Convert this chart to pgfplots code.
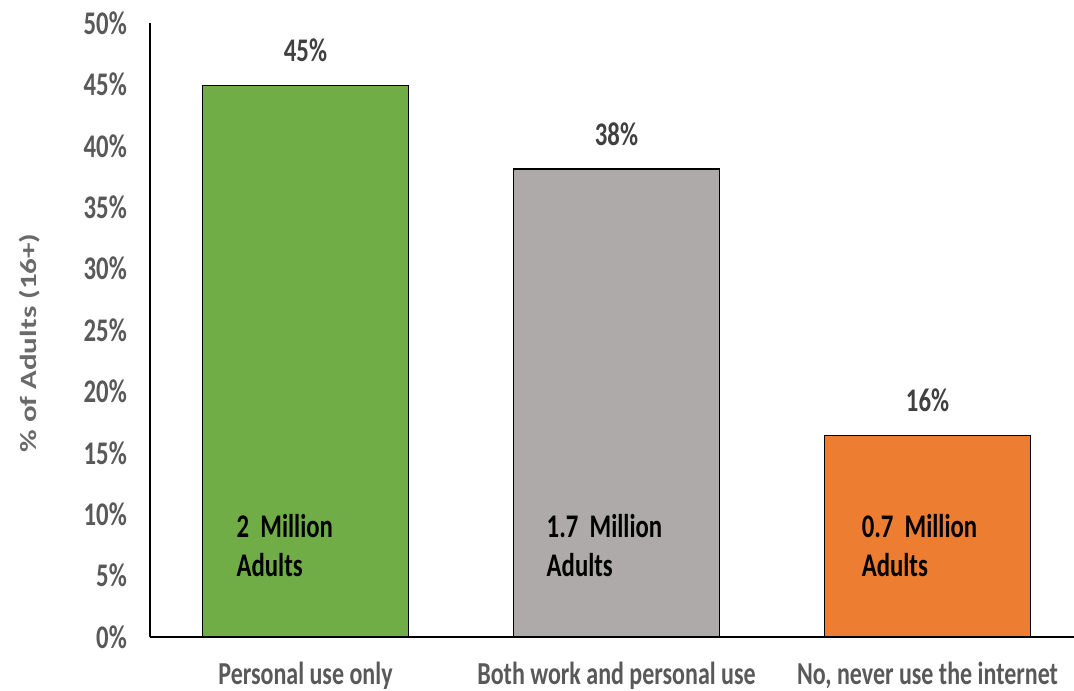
\documentclass[border=0pt]{standalone}
\usepackage{fontspec}
\setmainfont{Carlito}[FakeStretch=0.75]
\newfontfamily\cfn{Carlito}
\usepackage{graphicx}
\usepackage{pgfplots}
\pgfplotsset{compat=1.18}
\definecolor{barG}{HTML}{70AD47}
\definecolor{barY}{HTML}{AEAAAA}
\definecolor{barO}{HTML}{ED7D31}
\definecolor{tickc}{HTML}{595959}
\definecolor{valc}{HTML}{404040}
\definecolor{ylabc}{HTML}{6A6A6A}
\begin{document}
\begin{tikzpicture}
\path[use as bounding box] (0,0) rectangle (1074pt,691pt);
\begin{axis}[
  at={(150pt,54pt)}, anchor=south west,
  scale only axis, width=924pt, height=614pt,
  xmin=-0.5, xmax=2.471, ymin=0, ymax=50,
  axis x line*=bottom, axis y line*=left,
  x axis line style={-, line width=2.5pt, black},
  y axis line style={-, line width=1.4pt, black},
  major tick length=0pt,
  /pgf/number format/assume math mode=true,
  xtick={0,1,2},
  xticklabels={Personal use only, Both work and personal use, {No, never use the internet}},
  xticklabel style={anchor=base, inner sep=0pt, yshift=-47pt, font=\fontsize{32}{38}\selectfont\bfseries, text=tickc},
  ytick={0,5,...,50},
  yticklabels={0\%,5\%,10\%,15\%,20\%,25\%,30\%,35\%,40\%,45\%,50\%},
  yticklabel style={anchor=east, inner sep=0pt, xshift=-23pt, font=\fontsize{33}{38}\selectfont\bfseries, text=tickc},
  bar width=206pt,
  ybar, bar shift=0pt,
  nodes near coords={\pgfmathprintnumber[fixed,precision=0,assume math mode=true]{\pgfplotspointmeta}\%},
  every node near coord/.append style={anchor=south, inner sep=0pt, yshift=23pt, font=\fontsize{33}{38}\selectfont\bfseries, text=valc},
  clip=false,
]
\addplot[fill=barG, draw=black, line width=1.4pt] coordinates {(0,44.9)};
\addplot[fill=barY, draw=black, line width=1.4pt] coordinates {(1,38.1)};
\addplot[fill=barO, draw=black, line width=1.4pt] coordinates {(2,16.4)};
\begin{scope}[every node/.style={anchor=base west, inner sep=0pt, font=\fontsize{33}{38}\selectfont\bfseries, text=black}]
\node at (axis cs:-0.222,8.1) {2\ \ Million};
\node at (axis cs:-0.222,4.95) {Adults};
\node at (axis cs:0.775,8.1) {1.7\ \ Million};
\node at (axis cs:0.775,4.95) {Adults};
\node at (axis cs:1.788,8.1) {0.7\ \ Million};
\node at (axis cs:1.788,4.95) {Adults};
\end{scope}
\end{axis}
\node[rotate=90, inner sep=0pt, text=ylabc, font=\cfn\fontsize{31}{36}\selectfont\bfseries] at (30pt,348pt) {\scalebox{1}[0.75]{\% of Adults (16+)}};
\end{tikzpicture}
\end{document}
